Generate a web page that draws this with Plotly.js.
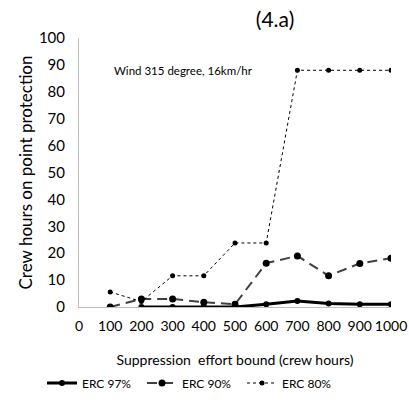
<!DOCTYPE html>
<html><head><meta charset="utf-8">
<script src="https://cdn.plot.ly/plotly-3.0.1.min.js"></script>
<style>html,body{margin:0;padding:0;background:#fff}</style>
</head><body><div id="chart" style="width:409px;height:403px"></div>
<script>
const xVals = [100,200,300,400,500,600,700,800,900,1000];
const erc97 = [null,0,0,0,0,1,2.2,1.3,1,1];
const erc90 = [0,3,3,1.8,1,16.3,19,11.6,16.2,18.1];
const erc80 = [5.6,2,11.6,11.6,23.8,23.8,88,88,88,88];
const tickVals = [0,100,200,300,400,500,600,700,800,900,1000];
const F = 'Lato, "Open Sans", sans-serif';
const traces = [
 {x:xVals,y:erc97,name:'ERC 97%',mode:'lines+markers',line:{color:'#000',width:3},marker:{color:'#000',size:6},connectgaps:false},
 {x:xVals,y:erc90,name:'ERC 90%',mode:'lines+markers',line:{color:'#404040',width:2,dash:'10px,6px'},marker:{color:'#000',size:7}},
 {x:xVals,y:erc80,name:'ERC 80%',mode:'lines+markers',line:{color:'#000',width:1,dash:'dot'},marker:{color:'#000',size:5}}
];
const layout = {
 width:409,height:403,
 margin:{l:79,r:18,t:38,b:96,autoexpand:false},
 paper_bgcolor:'#fff',plot_bgcolor:'#fff',
 font:{family:F,color:'#000',size:13},
 title:{text:'(4.a)',font:{size:21,family:F},x:257/409,xanchor:'center',xref:'paper',y:1-20/403,yref:'container',yanchor:'middle'},
 xaxis:{range:[0,1000],tickvals:tickVals,ticktext:tickVals.map(String),showgrid:false,zeroline:false,showline:true,linecolor:'#bfbfbf',linewidth:1,ticks:'',tickfont:{size:14},ticklabelstandoff:6,automargin:false,
   title:{text:'Suppression  effort bound (crew hours)',font:{size:14},standoff:26}},
 yaxis:{range:[0,100],dtick:10,showgrid:false,zeroline:false,showline:true,linecolor:'#bfbfbf',linewidth:1,ticks:'',tickfont:{size:15},ticklabelstandoff:10,automargin:false,
   title:{text:'Crew hours on point protection',font:{size:17},standoff:1}},
 legend:{orientation:'h',xref:'container',x:42/409,xanchor:'left',yref:'container',y:1-383/403,yanchor:'middle',font:{size:12},entrywidth:55,entrywidthmode:'pixels',itemwidth:30},
 annotations:[{text:'Wind 315 degree, 16km/hr',xref:'x',yref:'y',x:105,y:88,xanchor:'left',yanchor:'middle',showarrow:false,font:{size:11.5}}],
 showlegend:true
};
Plotly.newPlot('chart',traces,layout,{displayModeBar:false,staticPlot:true});
</script></body></html>
